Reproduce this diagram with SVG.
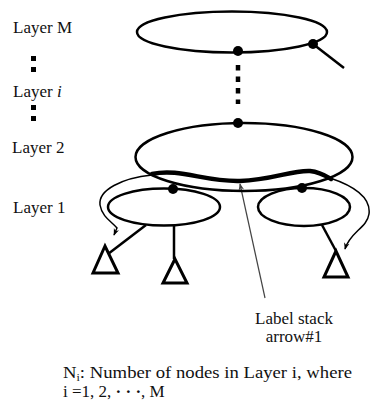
<svg xmlns="http://www.w3.org/2000/svg" width="371" height="403" viewBox="0 0 371 403">
<style>
.t{font-family:'Liberation Serif','Times New Roman',Tinos,'DejaVu Serif',serif;font-size:17px;fill:#111}
.ell{fill:none;stroke:#000;stroke-width:2.5}
.ln{fill:none;stroke:#000;stroke-width:2.5}
.tri{fill:#fff;stroke:#000;stroke-width:3;stroke-linejoin:miter}
.dot{fill:#000}
.thin{fill:none;stroke:#000;stroke-width:1.5}
</style>
<defs>
<marker id="ah" viewBox="0 0 10 10" refX="9" refY="5" markerWidth="7" markerHeight="7" orient="auto" markerUnits="userSpaceOnUse">
<path d="M0,1 L10,5 L0,9 L3,5 Z" fill="#000"/>
</marker>
<marker id="ahg" viewBox="0 0 10 10" refX="9" refY="5" markerWidth="7" markerHeight="7" orient="auto" markerUnits="userSpaceOnUse">
<path d="M0,1 L10,5 L0,9 L3,5 Z" fill="#444"/>
</marker>
</defs>
<rect width="371" height="403" fill="#fff"/>
<g id="labels">
<text class="t" x="13" y="33">Layer M</text>
<text class="t" x="13" y="97">Layer <tspan font-style="italic">i</tspan></text>
<text class="t" x="12" y="153">Layer 2</text>
<text class="t" x="13" y="213">Layer 1</text>
<rect x="31" y="56" width="5" height="5" fill="#000"/>
<rect x="31" y="67" width="5" height="5" fill="#000"/>
<rect x="31" y="105" width="5" height="5" fill="#000"/>
<rect x="31" y="116" width="5" height="5" fill="#000"/>
</g>
<g id="connectors">
<line class="ln" x1="313" y1="44" x2="344" y2="68"/>
<line x1="238" y1="65" x2="238" y2="104" stroke="#000" stroke-width="4.5" stroke-dasharray="5.5 6"/>
<line class="ln" x1="146" y1="225" x2="108" y2="254"/>
<line class="ln" x1="174" y1="225" x2="174" y2="259"/>
<line class="ln" x1="322" y1="225" x2="336" y2="251"/>
<path d="M152,175 C122,178 98,190 100,205 C102,217 112,222 117,228 L114,235" class="thin" marker-end="url(#ah)"/>
<path d="M330,178 C354,186 371,198 369,214 C367,228 350,232 345,249" class="thin" marker-end="url(#ah)"/>
<path d="M152,174 C180,168 205,182 240,181 C272,180 292,170 310,171 C320,172 326,176 331,179" fill="none" stroke="#000" stroke-width="4.5" stroke-linecap="round"/>
<line x1="265" y1="298" x2="240" y2="184" stroke="#444" stroke-width="1.2" marker-end="url(#ahg)"/>
</g>
<g id="layerM">
<ellipse class="ell" cx="232" cy="32" rx="95" ry="20.5"/>
<circle class="dot" cx="238" cy="51" r="5"/>
<circle class="dot" cx="313" cy="44" r="5"/>
</g>
<g id="layer2">
<ellipse class="ell" cx="244" cy="157" rx="108.5" ry="34"/>
<circle class="dot" cx="238" cy="123" r="5"/>
</g>
<g id="layer1-left">
<ellipse class="ell" cx="164" cy="207" rx="56" ry="18.5"/>
<circle class="dot" cx="173" cy="189" r="5"/>
</g>
<g id="layer1-right">
<ellipse class="ell" cx="304" cy="207" rx="46" ry="19"/>
<circle class="dot" cx="302" cy="188" r="5"/>
</g>
<g id="leaf1"><polygon class="tri" points="105,246 93,273 118,273"/></g>
<g id="leaf2"><polygon class="tri" points="175,259 163,283 187,283"/></g>
<g id="leaf3"><polygon class="tri" points="336,251 324,277 348,277"/></g>
<g id="caption">
<text class="t" x="294" y="324" text-anchor="middle" font-size="16">Label stack</text>
<text class="t" x="294" y="342" text-anchor="middle" font-size="16">arrow#1</text>
<text class="t" x="63" y="378" textLength="289" lengthAdjust="spacingAndGlyphs">N<tspan font-size="11" dy="3">i</tspan><tspan dy="-3">: Number of nodes in Layer i, where</tspan></text>
<text class="t" x="63" y="397">i  =1, 2, <tspan font-weight="bold">· · ·</tspan>, M</text>
</g>
</svg>
